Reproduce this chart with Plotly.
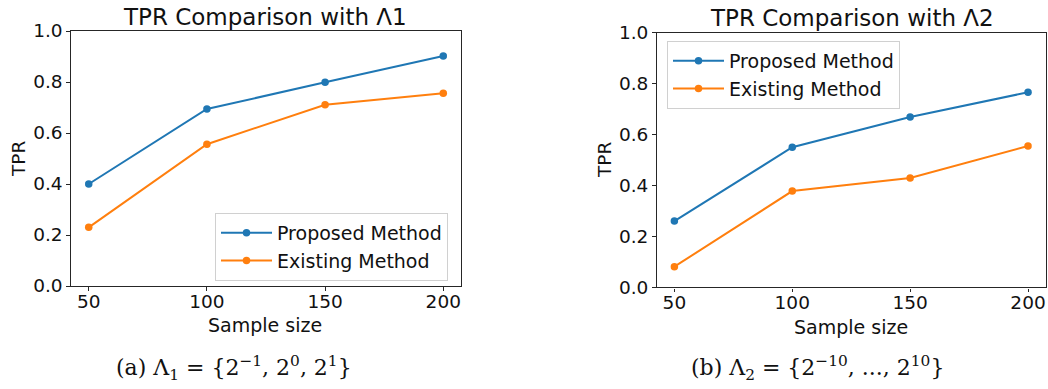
import plotly.graph_objects as go

sample_sizes = [50, 100, 150, 200]
x_ticks = [50, 100, 150, 200]
y_ticks = [0.0, 0.2, 0.4, 0.6, 0.8, 1.0]
y_tick_labels = ["0.0", "0.2", "0.4", "0.6", "0.8", "1.0"]

proposed_l1 = [0.40, 0.694, 0.799, 0.902]
existing_l1 = [0.230, 0.556, 0.711, 0.756]
proposed_l2 = [0.260, 0.550, 0.669, 0.766]
existing_l2 = [0.081, 0.378, 0.429, 0.555]

series_names = ["Proposed Method", "Existing Method"]
colors = ["#1f77b4", "#ff7f0e"]

W, H = 1048, 389
FONT = "DejaVu Sans"
TXT = "#111111"

fig = go.Figure()

def add_pair(xa, ya, legend, vals):
    for name, col, v in zip(series_names, colors, vals):
        fig.add_trace(go.Scatter(
            x=sample_sizes, y=v, name=name, mode="lines+markers",
            line=dict(color=col, width=2),
            marker=dict(color=col, size=7.5),
            xaxis=xa, yaxis=ya, legend=legend,
        ))

add_pair("x", "y", "legend", [proposed_l1, existing_l1])
add_pair("x2", "y2", "legend2", [proposed_l2, existing_l2])

def px(x):
    return x / W

def py(y):
    return 1 - y / H

axis_common = dict(
    showgrid=False, zeroline=False, showline=True, linecolor="#262626", linewidth=1.4,
    mirror=True, ticks="outside", ticklen=3.5, tickwidth=1.3, tickcolor="#262626",
    tickfont=dict(family=FONT, size=18.5, color=TXT),
)

legend_common = dict(
    xanchor="left", yanchor="top", xref="paper", yref="paper",
    bgcolor="rgba(255,255,255,0.8)", bordercolor="#d0d0d0", borderwidth=1,
    font=dict(family=FONT, size=19, color=TXT), tracegroupgap=0, itemwidth=51,
)

fig.update_layout(
    width=W, height=H,
    margin=dict(l=0, r=0, t=0, b=0, autoexpand=False),
    paper_bgcolor="white", plot_bgcolor="white",
    showlegend=True,
    xaxis=dict(domain=[px(71), px(461)], range=[42.5, 207.5], tickvals=x_ticks,
               anchor="y", ticklabelstandoff=-5, **axis_common),
    yaxis=dict(domain=[py(286), py(31)], range=[0, 1], tickvals=y_ticks,
               ticktext=y_tick_labels, anchor="x", **axis_common),
    xaxis2=dict(domain=[px(656.7), px(1045.7)], range=[42.5, 207.5], tickvals=x_ticks,
                anchor="y2", ticklabelstandoff=-5, **axis_common),
    yaxis2=dict(domain=[py(287.3), py(32.7)], range=[0, 1], tickvals=y_ticks,
                ticktext=y_tick_labels, anchor="x2", **axis_common),
    legend=dict(x=px(215), y=py(213), **legend_common),
    legend2=dict(x=px(667), y=py(41), **legend_common),
)

annotations = [
    # titles
    dict(text="TPR Comparison with Λ1", x=px(265), y=py(16.5), size=23, fam=FONT),
    dict(text="TPR Comparison with Λ2", x=px(852), y=py(18), size=23, fam=FONT),
    # x labels
    dict(text="Sample size", x=px(265), y=py(325), size=19, fam=FONT),
    dict(text="Sample size", x=px(851), y=py(327), size=19, fam=FONT),
    # captions
    dict(text="(a) Λ<sub>1</sub> = {2<sup>−1</sup>, 2<sup>0</sup>, 2<sup>1</sup>}",
         x=px(234), y=py(368), size=22, fam="DejaVu Serif"),
    dict(text="(b) Λ<sub>2</sub> = {2<sup>−10</sup>, ..., 2<sup>10</sup>}",
         x=px(817), y=py(368), size=22, fam="DejaVu Serif"),
]
for a in annotations:
    fig.add_annotation(text=a["text"], x=a["x"], y=a["y"], xref="paper", yref="paper",
                       xanchor="center", yanchor="middle", showarrow=False,
                       font=dict(family=a["fam"], size=a["size"], color=TXT))

for xpos, ypos in [(19, 159), (604, 160)]:
    fig.add_annotation(text="TPR", x=px(xpos), y=py(ypos), xref="paper", yref="paper",
                       xanchor="center", yanchor="middle", showarrow=False, textangle=-90,
                       font=dict(family=FONT, size=18.5, color=TXT))

fig.write_html(
    "out.html",
    config={"displayModeBar": False},
    post_script="document.body.style.margin='0';document.body.style.overflow='hidden';",
)
